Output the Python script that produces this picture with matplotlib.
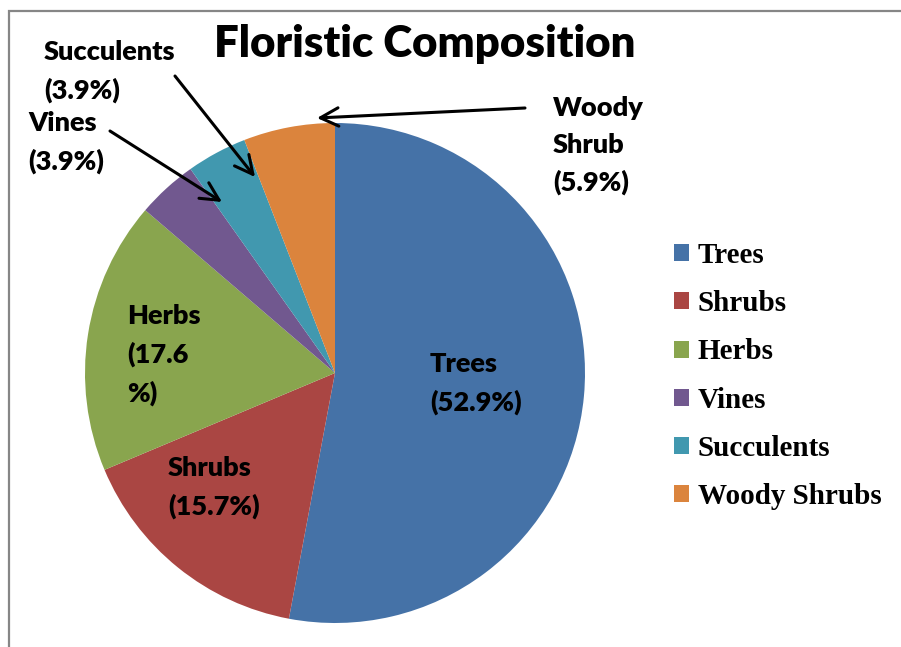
import matplotlib
matplotlib.use("Agg")
import matplotlib.pyplot as plt
from matplotlib.patches import Patch, Rectangle

# Data
categories = ["Trees", "Shrubs", "Herbs", "Vines", "Succulents", "Woody Shrubs"]
percent = [52.9, 15.7, 17.6, 3.9, 3.9, 5.9]
colors = ["#4572A7", "#AA4643", "#89A54E", "#71588F", "#4198AF", "#DB843D"]

# data label text as it appears on the chart
label_text = [
    "Trees\n(52.9%)",
    "Shrubs\n(15.7%)",
    "Herbs\n(17.6\n%)",
    "Vines\n(3.9%)",
    "Succulents\n(3.9%)",
    "Woody\nShrub\n(5.9%)",
]

W, H = 901, 647
fig = plt.figure(figsize=(W / 100, H / 100), dpi=100)


def fx(px):
    return px / W


def fy(py):
    return 1 - py / H


# outer chart border (only left and top visible)
fig.add_artist(Rectangle((fx(9), -0.1), 1.0, fy(11) + 0.1, transform=fig.transFigure,
                         fill=False, edgecolor="#868686", lw=1.6))

# pie
ax = fig.add_axes([fx(85), 1 - 623 / H, 500 / W, 500 / H])
wedges, _ = ax.pie(percent, colors=colors, startangle=90, counterclock=False,
                   wedgeprops=dict(linewidth=0))
ax.set_xlim(-1, 1)
ax.set_ylim(-1, 1)
ax.axis("off")

lab_font = dict(family="Lato", weight="heavy", size=19.5, color="black")

fig.text(fx(425), fy(24), "Floristic Composition", ha="center", va="top",
         family="Lato", weight="heavy", size=31.5)

# data label positions (top-left, pixels)
label_pos = {
    "Trees": (430, 352),
    "Shrubs": (168, 456),
    "Herbs": (127, 304),
    "Vines": (28, 111),
    "Succulents": (44, 40),
    "Woody Shrubs": (553, 96),
}
for name, txt in zip(categories, label_text):
    x, y = label_pos[name]
    fig.text(fx(x), fy(y), txt, ha="left", va="top", linespacing=1.63, **lab_font)

# leader arrows (tail -> head, pixels)
arrows = [((525, 108), (317, 118)),
          ((175, 76), (255, 177)),
          ((110, 131), (222, 202))]
for (tx, ty), (hx, hy) in arrows:
    ax.annotate("", xy=(hx, H - hy), xycoords="figure pixels",
                xytext=(tx, H - ty), textcoords="figure pixels",
                arrowprops=dict(arrowstyle="->,head_length=0.65,head_width=0.33",
                                color="black", lw=2.2, shrinkA=0, shrinkB=0,
                                mutation_scale=20))

handles = [Patch(facecolor=c, edgecolor="none") for c in colors]
fig.legend(handles, categories, loc="center left", bbox_to_anchor=(fx(674), fy(376)),
           frameon=False, borderpad=0, borderaxespad=0,
           handlelength=0.52, handleheight=0.52, handletextpad=0.3,
           labelspacing=0.73,
           prop=dict(family="Liberation Serif", weight="bold", size=21))

fig.savefig("out.png", dpi=100)
